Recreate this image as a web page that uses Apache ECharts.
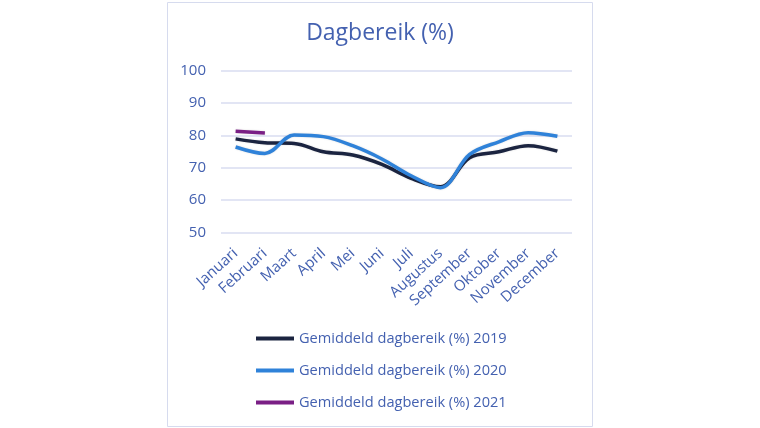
<!DOCTYPE html>
<html>
<head>
<meta charset="utf-8">
<script src="https://cdn.jsdelivr.net/npm/echarts@6/dist/echarts.min.js"></script>
<style>html,body{margin:0;padding:0;background:#fff;}#c{width:760px;height:428px;}</style>
</head>
<body>
<div id="c"></div>
<script>
var categories = ['Januari','Februari','Maart','April','Mei','Juni','Juli','Augustus','September','Oktober','November','December'];
var values2019 = [78.9, 77.7, 77.5, 74.9, 73.9, 71.0, 66.7, 64.1, 73.1, 74.9, 76.8, 75.1];
var values2020 = [76.4, 74.4, 80.1, 79.6, 76.8, 72.7, 67.5, 63.8, 74.1, 78.0, 80.8, 79.7];
var values2021 = [81.3, 80.7];
var seriesNames = ['Gemiddeld dagbereik (%) 2019','Gemiddeld dagbereik (%) 2020','Gemiddeld dagbereik (%) 2021'];
var yTicks = [50, 60, 70, 80, 90, 100];

var textColor = '#4461b0';
var font = 'Open Sans';
var chart = echarts.init(document.getElementById('c'));
function mk(name, data, color, w) {
  return {name: name, type: 'line', data: data, smooth: 0.35, symbol: 'none',
    lineStyle: {color: color, width: w, shadowColor: 'rgba(0,0,0,0.15)', shadowBlur: 2}, itemStyle: {color: color}};
}
chart.setOption({
  animation: false,
  graphic: [{type: 'rect', shape: {x: 167.5, y: 2.5, width: 425, height: 424}, style: {fill: 'none', stroke: '#d6dbee', lineWidth: 1}}],
  title: {text: 'Dagbereik (%)', left: 'center', top: 17,
    textStyle: {color: textColor, fontFamily: font, fontSize: 23, fontWeight: 'normal'}},
  grid: {left: 221, right: 188, top: 70.7, height: 161.6, containLabel: false},
  legend: {orient: 'vertical', left: 251, top: 326, itemGap: 17, itemWidth: 38, itemHeight: 4, icon: 'rect',
    textStyle: {color: textColor, fontFamily: font, fontSize: 14.6},
    data: seriesNames},
  xAxis: {type: 'category', data: categories, boundaryGap: true,
    axisLine: {show: false}, axisTick: {show: false},
    axisLabel: {rotate: 42, color: textColor, fontFamily: font, fontSize: 15, margin: 19, interval: 0}},
  yAxis: {type: 'value', min: 50, max: 100, interval: 10,
    axisLine: {show: false}, axisTick: {show: false},
    axisLabel: {color: textColor, fontFamily: font, fontSize: 15, margin: 15},
    splitLine: {lineStyle: {color: '#d9ddf0', width: 1.5}}},
  series: [
    mk(seriesNames[0], values2019, '#1b2440', 3.5),
    mk(seriesNames[1], values2020, '#2f82d9', 3.5),
    mk(seriesNames[2], values2021, '#7a1f85', 3.5)
  ]
});
</script>
</body>
</html>
